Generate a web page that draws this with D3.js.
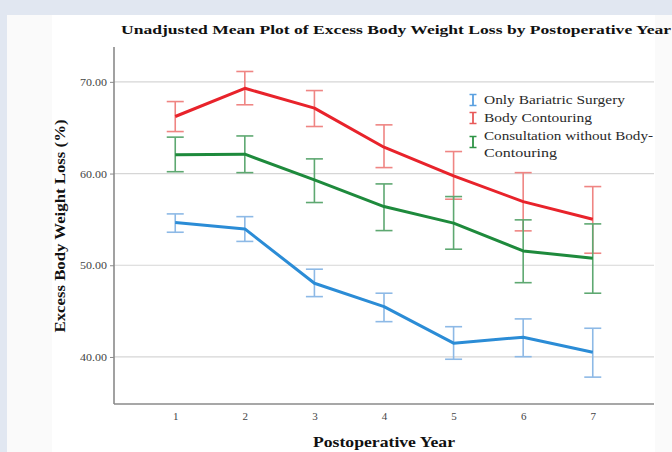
<!DOCTYPE html>
<html><head><meta charset="utf-8">
<script src="https://cdn.jsdelivr.net/npm/d3@7"></script>
<style>
html,body{margin:0;padding:0;background:#e1e7f1;}
svg{display:block;}
</style></head>
<body>
<svg id="chart" width="672" height="452"></svg>
<script>
const years = [1, 2, 3, 4, 5, 6, 7];
const yTicks = [40, 50, 60, 70];
const seriesNames = ["Only Bariatric Surgery", "Body Contouring", "Consultation without Body-Contouring"];
const onlyMean = [54.66, 53.96, 48.04, 45.49, 41.50, 42.15, 40.51];
const onlyLow  = [53.60, 52.60, 46.58, 43.85, 39.75, 40.03, 37.80];
const onlyHigh = [55.60, 55.30, 49.57, 46.95, 43.30, 44.15, 43.13];
const bcMean = [66.22, 69.30, 67.13, 62.87, 59.75, 56.94, 55.02];
const bcLow  = [64.58, 67.50, 65.13, 60.65, 57.20, 53.75, 51.31];
const bcHigh = [67.85, 71.13, 69.05, 65.31, 62.40, 60.10, 58.58];
const coMean = [62.04, 62.11, 59.31, 56.40, 54.59, 51.56, 50.77];
const coLow  = [60.20, 60.10, 56.84, 53.78, 51.75, 48.10, 46.95];
const coHigh = [63.97, 64.10, 61.60, 58.87, 57.49, 54.95, 54.51];

(function () {
const series = [
  {name: seriesNames[0], mean: onlyMean, low: onlyLow, high: onlyHigh, line: "#2b8cd6", err: "#8db9e6", icon: "#5aa0e0"},
  {name: seriesNames[1], mean: bcMean, low: bcLow, high: bcHigh, line: "#e8232b", err: "#ef8583", icon: "#e85a5a"},
  {name: seriesNames[2], mean: coMean, low: coLow, high: coHigh, line: "#1e8a3c", err: "#5ea871", icon: "#2f9446"}
];
const serif = "Liberation Serif, 'DejaVu Serif', serif";

const svg = d3.select("#chart");
svg.append("rect").attr("x", 7).attr("y", 15).attr("width", 665).attr("height", 437).attr("fill", "#fafafa");
svg.append("rect").attr("x", 52).attr("y", 15).attr("width", 603).attr("height", 437).attr("fill", "#ffffff");

const pLeft = 114, pRight = 654, pTop = 47, pBottom = 404;
const x = d3.scalePoint().domain(years).range([pLeft, pRight]).padding(0.88);
const y = d3.scaleLinear().domain([34.87, 73.8]).range([pBottom, pTop]);

svg.append("g").selectAll("line").data(yTicks).join("line")
  .attr("x1", pLeft).attr("x2", pRight)
  .attr("y1", d => y(d)).attr("y2", d => y(d))
  .attr("stroke", "#d6d6d6").attr("stroke-width", 1.2);

const yAxis = svg.append("g").attr("transform", `translate(${pLeft},0)`)
  .call(d3.axisLeft(y).tickValues(yTicks).tickFormat(d3.format(".2f")).tickSize(4).tickPadding(3));
const xAxis = svg.append("g").attr("transform", `translate(0,${pBottom})`)
  .call(d3.axisBottom(x).tickSize(0).tickPadding(8));
[yAxis, xAxis].forEach(g => {
  g.attr("font-family", serif).attr("font-size", 11);
  g.select(".domain").attr("stroke", "#8a8a8a").attr("stroke-width", 1.6);
  g.selectAll(".tick line").attr("stroke", "#8a8a8a");
  g.selectAll("text").attr("fill", "#444");
});
yAxis.selectAll("text").attr("textLength", 27).attr("lengthAdjust", "spacingAndGlyphs");
yAxis.select(".domain").attr("d", `M0,${pTop}V${pBottom}`);
xAxis.select(".domain").attr("d", `M${pLeft},0H${pRight}`);

const cap = 8.5;
series.forEach(s => {
  const g = svg.append("g");
  years.forEach((yr, i) => {
    const cx = x(yr);
    g.append("line").attr("x1", cx).attr("x2", cx).attr("y1", y(s.low[i])).attr("y2", y(s.high[i]))
      .attr("stroke", s.err).attr("stroke-width", 1.6);
    g.append("line").attr("x1", cx - cap).attr("x2", cx + cap).attr("y1", y(s.low[i])).attr("y2", y(s.low[i]))
      .attr("stroke", s.err).attr("stroke-width", 1.6);
    g.append("line").attr("x1", cx - cap).attr("x2", cx + cap).attr("y1", y(s.high[i])).attr("y2", y(s.high[i]))
      .attr("stroke", s.err).attr("stroke-width", 1.6);
  });
});
const line = d3.line().x((d, i) => x(years[i])).y(d => y(d));
series.forEach(s => {
  svg.append("path").datum(s.mean).attr("d", line)
    .attr("fill", "none").attr("stroke", s.line).attr("stroke-width", 3).attr("stroke-linejoin", "round");
});

svg.append("text").attr("x", 121).attr("y", 34)
  .attr("font-family", serif).attr("font-weight", "bold").attr("font-size", 13.5)
  .attr("fill", "#111").attr("textLength", 550).attr("lengthAdjust", "spacingAndGlyphs")
  .text("Unadjusted Mean Plot of Excess Body Weight Loss by Postoperative Year");

svg.append("text").attr("x", 384).attr("y", 447).attr("text-anchor", "middle")
  .attr("font-family", serif).attr("font-weight", "bold").attr("font-size", 14)
  .attr("fill", "#111").attr("textLength", 142).attr("lengthAdjust", "spacingAndGlyphs")
  .text("Postoperative Year");
svg.append("text").attr("transform", "translate(65,226) rotate(-90)").attr("text-anchor", "middle")
  .attr("font-family", serif).attr("font-weight", "bold").attr("font-size", 14)
  .attr("fill", "#111").attr("textLength", 213).attr("lengthAdjust", "spacingAndGlyphs")
  .text("Excess Body Weight Loss (%)");

// legend
const legend = svg.append("g");
const legRows = [
  {col: series[0].icon, iy: 100, lines: [[seriesNames[0], 104, 141]]},
  {col: series[1].icon, iy: 118, lines: [[seriesNames[1], 122, 108]]},
  {col: series[2].icon, iy: 142, lines: [["Consultation without Body-", 140, 169], ["Contouring", 156.5, 73]]}
];
legRows.forEach(r => {
  const ix = 473, ih = 5.5;
  legend.append("line").attr("x1", ix).attr("x2", ix).attr("y1", r.iy - ih).attr("y2", r.iy + ih).attr("stroke", r.col).attr("stroke-width", 1.8);
  legend.append("line").attr("x1", ix - 3.5).attr("x2", ix + 3.5).attr("y1", r.iy - ih).attr("y2", r.iy - ih).attr("stroke", r.col).attr("stroke-width", 1.5);
  legend.append("line").attr("x1", ix - 3.5).attr("x2", ix + 3.5).attr("y1", r.iy + ih).attr("y2", r.iy + ih).attr("stroke", r.col).attr("stroke-width", 1.5);
  r.lines.forEach(([t, by, w]) => {
    legend.append("text").attr("x", 484).attr("y", by)
      .attr("font-family", serif).attr("font-size", 13.5).attr("fill", "#2a2a2a")
      .attr("textLength", w).attr("lengthAdjust", "spacingAndGlyphs").text(t);
  });
});
})();
</script>
</body></html>
